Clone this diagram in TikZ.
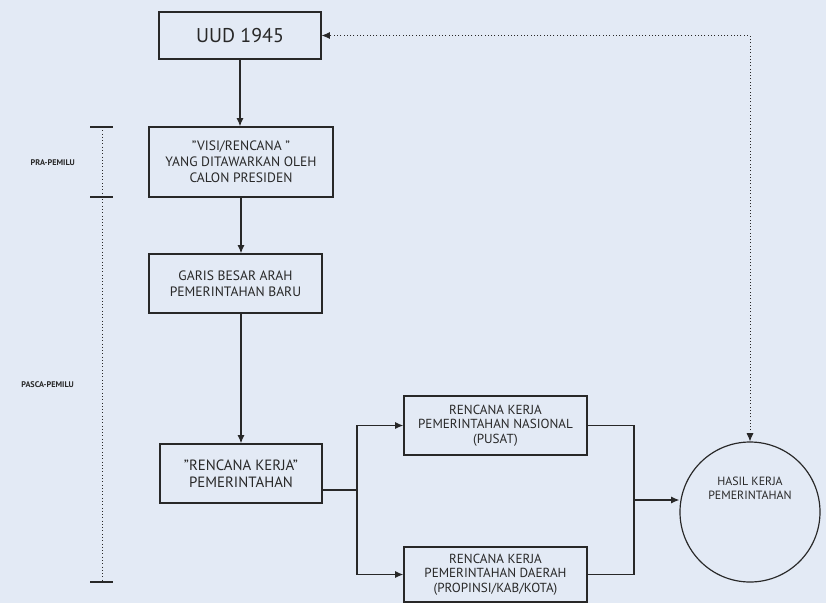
\documentclass[tikz,border=0pt]{standalone}
\usepackage{fontspec}
\setmainfont{PT Sans}
\usetikzlibrary{arrows.meta}
\definecolor{paper}{RGB}{227,234,245}
\definecolor{ink}{RGB}{40,40,40}
\tikzset{
    box/.style={draw=ink,line width=1.1pt,align=center,inner sep=0pt},
    arr/.style={draw=ink,line width=1.1pt,->},
    feedback/.style={draw=ink,line width=0.8pt,dotted,<->},
}

\begin{document}
\begin{tikzpicture}[x=0.03cm,y=-0.03cm,>={Latex[length=7pt,width=6pt]},text=ink]
    \fill[paper](0,0)rectangle(826,603);
    \useasboundingbox(0,0)rectangle(826,603);

    \node[box,minimum width=4.86cm,minimum height=1.41cm,font=\fontsize{17}{20}\selectfont](uud)at(240,35.5){UUD 1945};
    \node[box,minimum width=5.52cm,minimum height=2.1cm,font=\fontsize{11.6}{13.6}\selectfont](visi)at(241,162){"VISI/RENCANA "\\YANG DITAWARKAN OLEH\\CALON PRESIDEN};
    \node[box,minimum width=5.19cm,minimum height=1.77cm,font=\fontsize{11.6}{13.6}\selectfont](garis)at(235.5,283.5){GARIS BESAR ARAH\\PEMERINTAHAN BARU};
    \node[box,minimum width=4.86cm,minimum height=1.77cm,font=\fontsize{12.7}{14.5}\selectfont](rk)at(241,473.5){"RENCANA KERJA"\\PEMERINTAHAN};
    \node[box,minimum width=5.49cm,minimum height=1.77cm,font=\fontsize{11.2}{12.5}\selectfont](nas)at(495.5,425.5){RENCANA KERJA\\PEMERINTAHAN NASIONAL\\(PUSAT)};
    \node[box,minimum width=5.49cm,minimum height=1.65cm,font=\fontsize{11.2}{12.5}\selectfont](dae)at(495.5,574.5){RENCANA KERJA\\PEMERINTAHAN DAERAH\\(PROPINSI/KAB/KOTA)};
    \node[draw=ink,line width=1pt,circle,minimum size=4.2cm,inner sep=0pt,
        label={[name=hasiltxt,align=center,yshift=20pt,font=\fontsize{10.2}{11.8}\selectfont]center:HASIL KERJA\\PEMERINTAHAN}](hasil)at(750,512){};

    % periode
    \draw[ink,line width=0.8pt,dotted](102,127)--(102,582);
    \draw[ink,line width=1.1pt](90,127)--(113,127);
    \draw[ink,line width=1.1pt](90,197)--(113,197);
    \draw[ink,line width=1.1pt](90,582)--(113,582);
    \node[font=\fontsize{7}{8}\selectfont\bfseries,anchor=east](pra)at(79,163){PRA-PEMILU};
    \node[font=\fontsize{7}{8}\selectfont\bfseries,anchor=east](pasca)at(78,385){PASCA-PEMILU};

    % alur
    \coordinate(fork)at(357,490);
    \coordinate(join)at(634,500);
    \draw[arr](uud.south)--(uud.south|-visi.north);
    \draw[arr](visi.south)--(visi.south|-garis.north);
    \draw[arr](garis.south-|rk.north)--(rk.north);
    \draw[ink,line width=1.1pt](rk.east|-fork)--(fork);
    \draw[arr](fork)|-(nas.west);
    \draw[arr](fork)|-(dae.west);
    \draw[ink,line width=1.1pt](nas.east)-|(join);
    \draw[ink,line width=1.1pt](dae.east)-|(join);
    \draw[arr](join)--(join-|hasil.west);
    \draw[feedback](hasil.north)|-(uud.east);
\end{tikzpicture}
\end{document}
